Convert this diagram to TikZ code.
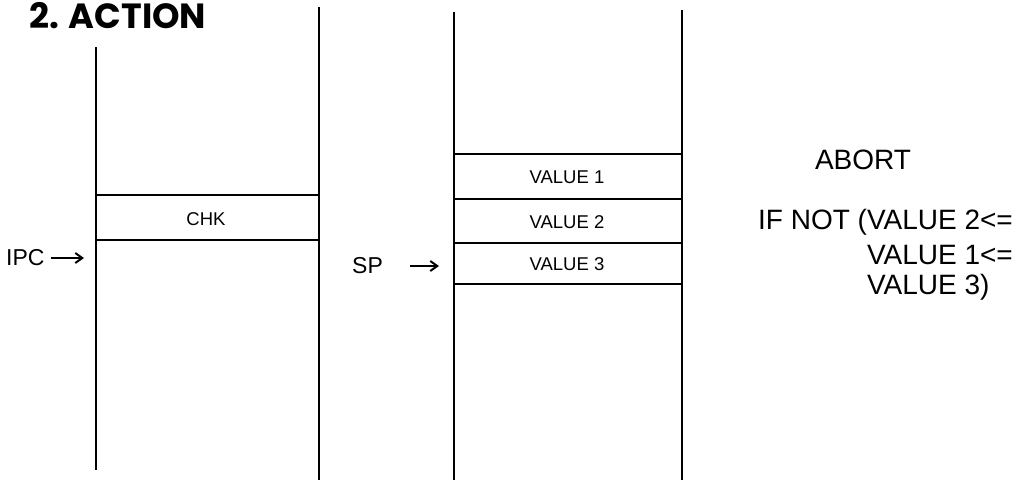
\documentclass[tikz,border=0pt]{standalone}
\usepackage{fontspec}
\setmainfont{Liberation Sans}
\newfontfamily\titlefont{Poppins}
\usetikzlibrary{arrows.meta}
\tikzset{
  wall/.style={line width=1.8pt, black},
  cell/.style={line width=2pt, black},
  celltext/.style={inner sep=0pt, font=\fontsize{18.5}{20}\selectfont},
  ptrtext/.style={inner sep=0pt, font=\fontsize{23}{25}\selectfont},
  ptrarrow/.style={line width=2pt, -{Straight Barb[length=7pt,width=10pt]}},
  notetext/.style={inner sep=0pt, font=\fontsize{28}{30}\selectfont},
}
\begin{document}
\begin{tikzpicture}[x=1pt,y=-1pt]
\useasboundingbox (0,0) rectangle (1019,480);
% title
\node[inner sep=0pt, anchor=west, font=\titlefont\fontsize{35}{37}\selectfont\bfseries] (title) at (29,16) {2. ACTION};
% left column walls
\coordinate (l1t) at (96,47); \coordinate (l1b) at (96,470);
\coordinate (l2t) at (319,7); \coordinate (l2b) at (319,480);
\draw[wall] (l1t) -- (l1b);
\draw[wall] (l2t) -- (l2b);
% CHK cell
\draw[cell] (96,195) -- (319,195);
\draw[cell] (96,240) -- (319,240);
\node[celltext] (chk) at (206,219) {CHK};
% middle column walls
\coordinate (m1t) at (454,12); \coordinate (m1b) at (454,480);
\coordinate (m2t) at (682,10); \coordinate (m2b) at (682,480);
\draw[wall] (m1t) -- (m1b);
\draw[wall] (m2t) -- (m2b);
% value cells
\draw[cell] (454,154) -- (682,154);
\draw[cell] (454,199) -- (682,199);
\draw[cell] (454,243) -- (682,243);
\draw[cell] (454,284) -- (682,284);
\node[celltext] (v1) at (567,177) {VALUE 1};
\node[celltext] (v2) at (567,222) {VALUE 2};
\node[celltext] (v3) at (567,264) {VALUE 3};
% pointers
\node[ptrtext, anchor=west] (ipc) at (6,258) {IPC};
\coordinate (ipcend) at (84,258);
\draw[ptrarrow] (ipc.east) ++(6pt,0) coordinate (ipcstart) -- (ipcend);
\node[ptrtext, anchor=west] (sp) at (352,266) {SP};
\coordinate (spstart) at (410,266);
\coordinate (spend) at (439,266);
\draw[ptrarrow] (spstart) -- (spend);
% notes
\node[notetext] (abort) at (863,160) {ABORT};
\node[notetext, anchor=east] (cond1) at (1013,222) {IF NOT (VALUE 2<=};
\node[notetext, anchor=east] (cond2) at (1013,255) {VALUE 1<=};
\node[notetext, anchor=west] (cond3) at (cond2.west |- 0,287) {VALUE 3)};
\end{tikzpicture}
\end{document}
